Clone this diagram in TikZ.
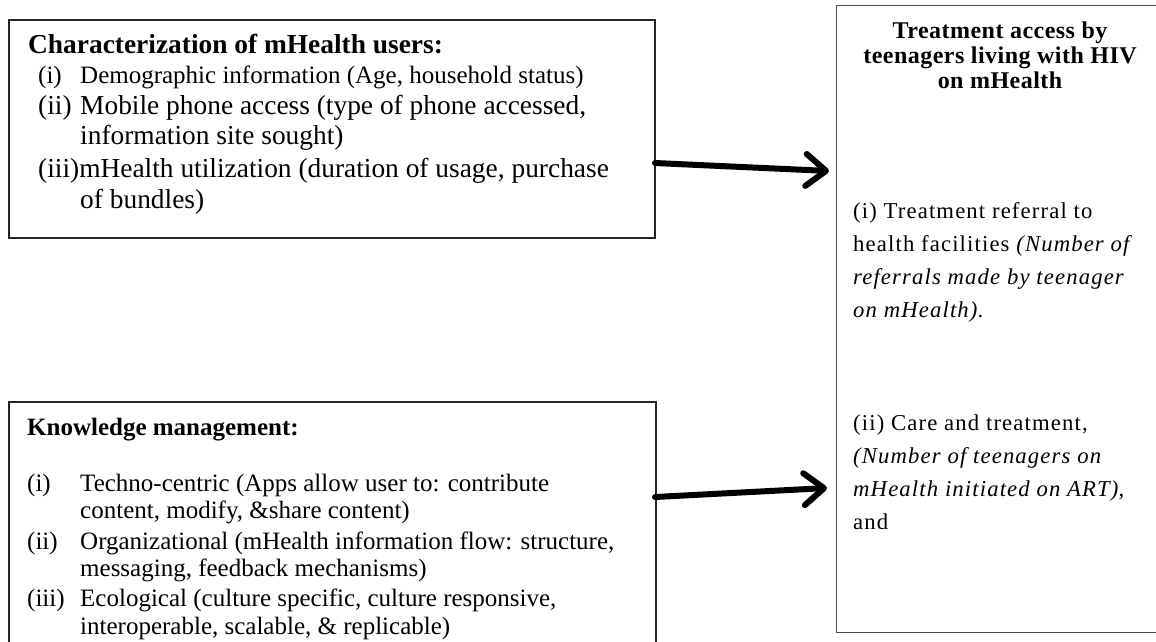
\documentclass[tikz,border=0pt]{standalone}
\usepackage{fontspec}
\setmainfont{Liberation Serif}
\newfontfamily\rbody[LetterSpace=5]{Liberation Serif}
\newfontfamily\rtitle[LetterSpace=2]{Liberation Serif}
\usetikzlibrary{arrows.meta}
\begin{document}
\begin{tikzpicture}[x=1pt,y=-1pt,
  box/.style={draw=black!85, line width=1.5pt, inner sep=0pt, anchor=north west},
  rbox/.style={draw=black!70, line width=1pt, inner sep=0pt, anchor=north west},
  txt/.style={inner sep=0pt, anchor=base west},
  ctxt/.style={inner sep=0pt, anchor=base},
  hbig/.style={font=\fontsize{27.4pt}{31pt}\selectfont\bfseries},
  tbig/.style={font=\fontsize{27.4pt}{31pt}\selectfont},
  tmid/.style={font=\fontsize{25pt}{29pt}\selectfont},
  hmid/.style={font=\fontsize{25pt}{29pt}\selectfont\bfseries},
  rhead/.style={font=\rtitle\fontsize{24pt}{27pt}\selectfont\bfseries},
  rtext/.style={font=\rbody\fontsize{22.7pt}{26pt}\selectfont},
  flow/.style={line width=6pt, line cap=round, -{Straight Barb[length=20pt,width=32pt,round]}}
]
\clip (0,0) rectangle (1156,641);
\fill[white] (0,0) rectangle (1156,641);

% boxes
\node[box, minimum width=646pt, minimum height=218pt] (users) at (8,19) {};
\node[box, minimum width=647pt, minimum height=260pt] (know) at (8,401) {};
\node[rbox, minimum width=330pt, minimum height=627pt] (access) at (836,5) {};

% upper left box text
\node[txt, hbig] (u0) at (28,53) {Characterization of mHealth users:};
\node[txt, tmid] (u1a) at (38,83) {(i)};
\node[txt, tmid] (u1b) at (80,83) {Demographic information (Age, household status)};
\node[txt, tbig] (u2a) at (38,114) {(ii)};
\node[txt, tbig] (u2b) at (80,114) {Mobile phone access (type of phone accessed,};
\node[txt, tbig] (u2c) at (80,144) {information site sought)};
\node[txt, tbig] (u3a) at (38,177) {(iii)mHealth utilization (duration of usage, purchase};
\node[txt, tbig] (u3b) at (80,208) {of bundles)};

% lower left box text
\node[txt, hmid] (k0) at (27,435) {Knowledge management:};
\node[txt, tmid] (k1a) at (27,491) {(i)};
\node[txt, tmid] (k1b) at (80,491) {Techno-centric (Apps allow user to: contribute};
\node[txt, tmid] (k1c) at (80,518) {content, modify, \&share content)};
\node[txt, tmid] (k2a) at (27,549) {(ii)};
\node[txt, tmid] (k2b) at (80,549) {Organizational (mHealth information flow: structure,};
\node[txt, tmid] (k2c) at (80,576) {messaging, feedback mechanisms)};
\node[txt, tmid] (k3a) at (27,606) {(iii)};
\node[txt, tmid] (k3b) at (80,606) {Ecological (culture specific, culture responsive,};
\node[txt, tmid] (k3c) at (80,634) {interoperable, scalable, \& replicable)};

% right box text
\node[ctxt, rhead] (r0a) at (1000,38) {Treatment access by};
\node[ctxt, rhead] (r0b) at (1000,63) {teenagers living with HIV};
\node[ctxt, rhead] (r0c) at (1000,88) {on mHealth};
\node[txt, rtext] (r1a) at (853,218) {(i) Treatment referral to};
\node[txt, rtext] (r1b) at (853,251) {health facilities \textit{(Number of}};
\node[txt, rtext] (r1c) at (853,284) {\textit{referrals made by teenager}};
\node[txt, rtext] (r1d) at (853,317) {\textit{on mHealth)}.};
\node[txt, rtext] (r2a) at (853,430) {(ii) Care and treatment,};
\node[txt, rtext] (r2b) at (853,463) {\textit{(Number of teenagers on}};
\node[txt, rtext] (r2c) at (853,496) {\textit{mHealth initiated on ART)},};
\node[txt, rtext] (r2d) at (853,529) {and};

% arrows
\coordinate (a1s) at (655,163);
\coordinate (a1e) at (829,171);
\coordinate (a2s) at (655,497);
\coordinate (a2e) at (827,488);
\draw[flow] (a1s) -- (a1e);
\draw[flow] (a2s) -- (a2e);
\end{tikzpicture}
\end{document}
